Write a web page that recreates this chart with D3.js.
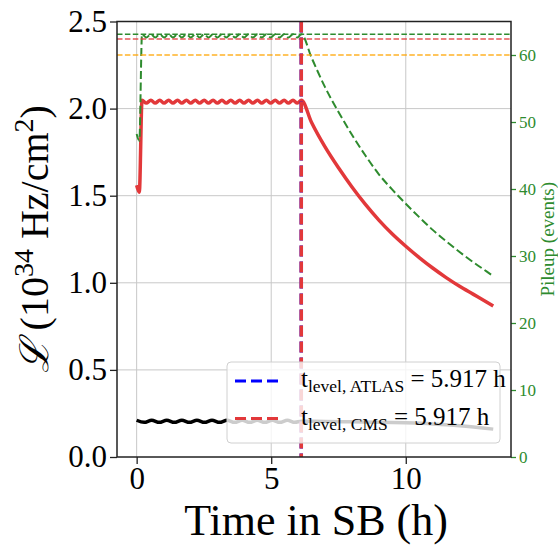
<!DOCTYPE html>
<html>
<head>
<meta charset="utf-8">
<script src="https://cdn.jsdelivr.net/npm/d3@7"></script>
<style>
  body { margin: 0; background: #fff; }
  text { font-family: "Liberation Serif", "DejaVu Serif", serif; }
</style>
</head>
<body>
<svg id="chart" width="558" height="546"></svg>
<script>
// data
var timeH = [0, 0.10,
  0.20, 0.36, 0.53, 0.69, 0.86, 1.02, 1.19, 1.35, 1.52, 1.68, 1.85, 2.01, 2.18, 2.34, 2.51, 2.67, 2.84, 3.00, 3.17,
  3.33, 3.50, 3.66, 3.83, 3.99, 4.16, 4.32, 4.49, 4.65, 4.82, 4.98, 5.15, 5.31, 5.48, 5.64, 5.81, 5.97, 6.12,
  6.5, 7.0, 7.5, 8.0, 8.5, 9.0, 9.5, 10.0, 10.5, 11.0, 11.5, 12.0, 12.5, 13.0, 13.25];
var lumiCMS = [1.56, 1.52,
  2.048, 2.032, 2.048, 2.032, 2.048, 2.032, 2.048, 2.032, 2.048, 2.032, 2.048, 2.032, 2.048, 2.032, 2.048, 2.032, 2.048, 2.032, 2.048,
  2.032, 2.048, 2.032, 2.048, 2.032, 2.048, 2.032, 2.048, 2.032, 2.048, 2.032, 2.048, 2.032, 2.048, 2.032, 2.048, 2.032, 2.048,
  1.92, 1.78, 1.66, 1.55, 1.45, 1.36, 1.28, 1.21, 1.145, 1.085, 1.03, 0.98, 0.935, 0.89, 0.867];
var pileupCMS = [48.2, 47.2,
  63.1, 62.6, 63.1, 62.6, 63.1, 62.6, 63.1, 62.6, 63.1, 62.6, 63.1, 62.6, 63.1, 62.6, 63.1, 62.6, 63.1, 62.6, 63.1,
  62.6, 63.1, 62.6, 63.1, 62.6, 63.1, 62.6, 63.1, 62.6, 63.1, 62.6, 63.1, 62.6, 63.1, 62.6, 63.1, 62.6, 63.1,
  59.6, 55.2, 51.5, 48.1, 45.0, 42.2, 39.9, 37.8, 35.8, 33.9, 32.2, 30.6, 29.1, 27.7, 27.0];
var timeLow = [0, 0.28, 0.56, 0.84, 1.12, 1.40, 1.68, 1.96, 2.24, 2.52, 2.80, 3.08, 3.36, 3.64, 3.92, 4.20,
  4.48, 4.76, 5.04, 5.32, 5.60, 5.88, 6.12, 7, 8, 9, 10, 11, 12, 13.25];
var lumiLow = [0.211, 0.199, 0.211, 0.199, 0.211, 0.199, 0.211, 0.199, 0.211, 0.199, 0.211, 0.199, 0.211, 0.199,
  0.211, 0.199, 0.211, 0.199, 0.211, 0.199, 0.211, 0.199, 0.205, 0.204, 0.202, 0.200, 0.196, 0.190, 0.180, 0.160];

var lumiLevel = 2.40, pileupLevel = 63.1, pileupCap = 60;
var tStart = 0.2;
var legendNames = ["ATLAS", "CMS"];
var tLevel = [5.917, 5.917];

var xTicks = [0, 5, 10],
    yTicks = [0, 0.5, 1.0, 1.5, 2.0, 2.5],
    puTicks = [0, 10, 20, 30, 40, 50, 60];

var red = "#e2383a", green = "#2e8b2e", blue = "#0000ff";

var svg = d3.select("#chart"),
  margin = {top: 21.5, right: 47, bottom: 89, left: 117},
  width = +svg.attr("width") - margin.left - margin.right,
  height = +svg.attr("height") - margin.top - margin.bottom,
  g = svg.append("g").attr("transform", "translate(" + margin.left + "," + margin.top + ")");

var x = d3.scaleLinear().domain([-0.73, 13.91]).range([0, width]),
    y = d3.scaleLinear().domain([0, 2.5]).range([height, 0]),
    y2 = d3.scaleLinear().domain([0, 65]).range([height, 0]);

//grid
g.append("g").selectAll("line").data(xTicks).enter().append("line")
  .attr("x1", function(d) { return x(d); }).attr("x2", function(d) { return x(d); })
  .attr("y1", 0).attr("y2", height)
  .attr("stroke", "#c8c8c8").attr("stroke-width", 1);
g.append("g").selectAll("line").data(yTicks.slice(1, -1)).enter().append("line")
  .attr("x1", 0).attr("x2", width)
  .attr("y1", function(d) { return y(d); }).attr("y2", function(d) { return y(d); })
  .attr("stroke", "#c8c8c8").attr("stroke-width", 1);

var lumiLine = d3.line()
  .curve(d3.curveMonotoneX)
  .x(function(d) { return x(d[0]); })
  .y(function(d) { return y(d[1]); });
var puLine = d3.line()
  .curve(d3.curveMonotoneX)
  .x(function(d) { return x(d[0]); })
  .y(function(d) { return y2(d[1]); });

g.append("path")
  .datum(d3.zip(timeLow, lumiLow))
  .attr("d", lumiLine)
  .attr("fill", "none").attr("stroke", "#000").attr("stroke-width", 3.5);

g.append("path")
  .datum(d3.zip(timeH, lumiCMS))
  .attr("d", lumiLine)
  .attr("fill", "none").attr("stroke", red).attr("stroke-width", 3.5)
  .attr("stroke-linejoin", "round");

g.append("path")
  .datum(d3.zip(timeH, pileupCMS))
  .attr("d", puLine)
  .attr("fill", "none").attr("stroke", green).attr("stroke-width", 2)
  .attr("stroke-dasharray", "8,3.5");

//horizontal limits
g.append("line").attr("x1", 0).attr("x2", width)
  .attr("y1", y2(pileupLevel)).attr("y2", y2(pileupLevel))
  .attr("stroke", green).attr("stroke-width", 1.5).attr("stroke-dasharray", "5.5,2.4");
g.append("line").attr("x1", 0).attr("x2", width)
  .attr("y1", y(lumiLevel)).attr("y2", y(lumiLevel))
  .attr("stroke", red).attr("stroke-opacity", 0.85).attr("stroke-width", 1.5).attr("stroke-dasharray", "5.5,2.4");
g.append("line").attr("x1", 0).attr("x2", width)
  .attr("y1", y2(pileupCap)).attr("y2", y2(pileupCap))
  .attr("stroke", "orange").attr("stroke-opacity", 0.85).attr("stroke-width", 1.5).attr("stroke-dasharray", "5.5,2.4");

//end of levelling
var levColors = [blue, red];
g.append("g").selectAll("line").data(tLevel).enter().append("line")
  .attr("x1", function(d) { return x(tStart + d); }).attr("x2", function(d) { return x(tStart + d); })
  .attr("y1", 0).attr("y2", height)
  .attr("stroke", function(d, i) { return levColors[i]; })
  .attr("stroke-width", 3.5).attr("stroke-dasharray", "11,5");

//axes
var axL = g.append("g").call(d3.axisLeft(y).tickValues(yTicks).tickFormat(d3.format(".1f")).tickSize(7).tickPadding(3).tickSizeOuter(0));
var axB = g.append("g").attr("transform", "translate(0," + height + ")")
  .call(d3.axisBottom(x).tickValues(xTicks).tickSize(7).tickPadding(3).tickSizeOuter(0));
var axR = g.append("g").attr("transform", "translate(" + width + ",0)")
  .call(d3.axisRight(y2).tickValues(puTicks).tickSize(5).tickPadding(3).tickSizeOuter(0));

[axL, axB, axR].forEach(function(a) {
  a.select(".domain").remove();
  a.selectAll("text").style("font-family", "'Liberation Serif', serif");
});
axL.selectAll("line").attr("stroke", "#222").attr("stroke-width", 1.3);
axB.selectAll("line").attr("stroke", "#222").attr("stroke-width", 1.3);
axL.selectAll("text").style("font-size", "31px").attr("fill", "#000");
axB.selectAll("text").style("font-size", "31px").attr("fill", "#000");
axR.selectAll("line").attr("stroke", green).attr("stroke-width", 1.3);
axR.selectAll("text").style("font-size", "17px").attr("fill", green);

//legend
var leg = g.append("g").attr("transform", "translate(" + (227 - margin.left) + "," + (362 - margin.top) + ")");
leg.append("rect").attr("width", 273).attr("height", 81).attr("rx", 4)
  .attr("fill", "#fff").attr("fill-opacity", 0.8)
  .attr("stroke", "#d0d0d0").attr("stroke-width", 1);
var row = leg.selectAll(".row").data(legendNames).enter().append("g")
  .attr("class", "row")
  .attr("transform", function(d, i) { return "translate(0," + (19 + i * 37.5) + ")"; });
row.append("line").attr("x1", 8).attr("x2", 51).attr("y1", 0).attr("y2", 0)
  .attr("stroke", function(d, i) { return levColors[i]; })
  .attr("stroke-width", 3).attr("stroke-dasharray", "11,5");
var lt = row.append("text").attr("x", 74).attr("y", 6).style("font-size", "25px").attr("fill", "#000");
lt.append("tspan").text("t");
lt.append("tspan").attr("dy", 5).style("font-size", "17.5px").text(function(d) { return "level, " + d; });
lt.append("tspan").attr("dy", -5).text(function(d, i) { return " = " + tLevel[i] + " h"; });

//frame
g.append("rect").attr("width", width).attr("height", height)
  .attr("fill", "none").attr("stroke", "#222").attr("stroke-width", 1.5);

//axis titles
svg.append("text")
  .attr("x", 316).attr("y", 535)
  .attr("text-anchor", "middle").style("font-size", "44px")
  .text("Time in SB (h)");

var yl = svg.append("text")
  .attr("transform", "translate(48," + (margin.top + height / 2) + ") rotate(-90)")
  .attr("text-anchor", "middle").style("font-size", "40px");
yl.append("tspan").style("font-family", "'DejaVu Serif', serif").style("font-style", "italic").text("\u2112");
yl.append("tspan").text(" (10");
yl.append("tspan").attr("dy", -15).style("font-size", "28px").text("34");
yl.append("tspan").attr("dy", 15).text(" Hz/cm");
yl.append("tspan").attr("dy", -15).style("font-size", "28px").text("2");
yl.append("tspan").attr("dy", 15).text(")");

svg.append("text")
  .attr("transform", "translate(554," + (margin.top + height / 2) + ") rotate(-90)")
  .attr("text-anchor", "middle").style("font-size", "19px").attr("fill", green)
  .text("Pileup (events)");
</script>
</body>
</html>
